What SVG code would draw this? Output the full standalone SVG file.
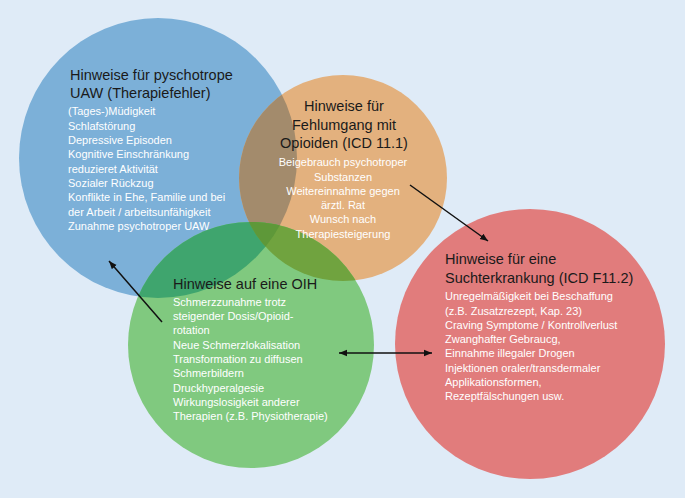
<svg xmlns="http://www.w3.org/2000/svg" width="685" height="498" viewBox="0 0 685 498">
<defs>
<style>
.t{font-family:"Liberation Sans",Arial,sans-serif;font-size:14.5px;fill:#1a1a1a}
.b{font-family:"Liberation Sans",Arial,sans-serif;font-size:11px;fill:#ffffff}
.c{text-anchor:middle}
.ln{stroke:#111;stroke-width:1.5;fill:none}
</style>
<marker id="ah" viewBox="0 0 10 10" refX="10" refY="5" markerWidth="8" markerHeight="8" markerUnits="userSpaceOnUse" orient="auto-start-reverse">
<path d="M0,1 L10,5 L0,9 Z" fill="#111"/>
</marker>
<clipPath id="cBlue"><ellipse cx="158" cy="158" rx="139" ry="140"/></clipPath>
<clipPath id="cOrange"><ellipse cx="343" cy="178" rx="104" ry="103"/></clipPath>
</defs>
<rect x="0" y="0" width="685" height="498" fill="#dfebf7"/>

<g id="node-uaw">
<ellipse cx="158" cy="158" rx="139" ry="140" fill="#7cb0d8"/>
</g>
<g id="node-fehlumgang">
<ellipse cx="343" cy="178" rx="104" ry="103" fill="#e3b17e"/>
<ellipse cx="343" cy="178" rx="104" ry="103" fill="#a38b6c" clip-path="url(#cBlue)"/>
</g>
<g id="node-oih">
<ellipse cx="251" cy="345" rx="123" ry="123" fill="#80c97f"/>
<ellipse cx="251" cy="345" rx="123" ry="123" fill="#3fa56e" clip-path="url(#cBlue)"/>
<ellipse cx="251" cy="345" rx="123" ry="123" fill="#70a33f" clip-path="url(#cOrange)"/>
<g clip-path="url(#cBlue)"><ellipse cx="251" cy="345" rx="123" ry="123" fill="#5e9839" clip-path="url(#cOrange)"/></g>
</g>
<g id="node-sucht">
<ellipse cx="530" cy="344" rx="135" ry="135" fill="#e17c7c"/>
</g>

<g id="text-uaw">
<text class="t" x="70" y="80">Hinweise für pyschotrope</text>
<text class="t" x="70" y="98">UAW (Therapiefehler)</text>
<text class="b" x="68" y="115">(Tages-)Müdigkeit</text>
<text class="b" x="68" y="129.5">Schlafstörung</text>
<text class="b" x="68" y="144">Depressive Episoden</text>
<text class="b" x="68" y="158">Kognitive Einschränkung</text>
<text class="b" x="68" y="172.5">reduzieret Aktivität</text>
<text class="b" x="68" y="187">Sozialer Rückzug</text>
<text class="b" x="68" y="201">Konflikte in Ehe, Familie und bei</text>
<text class="b" x="68" y="215.5">der Arbeit / arbeitsunfähigkeit</text>
<text class="b" x="68" y="230">Zunahme psychotroper UAW</text>
</g>
<g id="text-fehlumgang">
<text class="t c" x="344" y="111">Hinweise für</text>
<text class="t c" x="344" y="130">Fehlumgang mit</text>
<text class="t c" x="344" y="148">Opioiden (ICD 11.1)</text>
<text class="b c" x="343" y="166">Beigebrauch psychotroper</text>
<text class="b c" x="343" y="181">Substanzen</text>
<text class="b c" x="343" y="195">Weitereinnahme gegen</text>
<text class="b c" x="343" y="209">ärztl. Rat</text>
<text class="b c" x="343" y="223">Wunsch nach</text>
<text class="b c" x="343" y="238">Therapiesteigerung</text>
</g>
<g id="text-oih">
<text class="t" x="173" y="289">Hinweise auf eine OIH</text>
<text class="b" x="173" y="306">Schmerzzunahme trotz</text>
<text class="b" x="173" y="320">steigender Dosis/Opioid-</text>
<text class="b" x="173" y="334">rotation</text>
<text class="b" x="173" y="349">Neue Schmerzlokalisation</text>
<text class="b" x="173" y="363">Transformation zu diffusen</text>
<text class="b" x="173" y="377">Schmerbildern</text>
<text class="b" x="173" y="392">Druckhyperalgesie</text>
<text class="b" x="173" y="406">Wirkungslosigkeit anderer</text>
<text class="b" x="173" y="420">Therapien (z.B. Physiotherapie)</text>
</g>
<g id="text-sucht">
<text class="t" x="445" y="264">Hinweise für eine</text>
<text class="t" x="445" y="283">Suchterkrankung (ICD F11.2)</text>
<text class="b" x="445" y="300">Unregelmäßigkeit bei Beschaffung</text>
<text class="b" x="445" y="315">(z.B. Zusatzrezept, Kap. 23)</text>
<text class="b" x="445" y="329">Craving Symptome / Kontrollverlust</text>
<text class="b" x="445" y="343">Zwanghafter Gebraucg,</text>
<text class="b" x="445" y="357">Einnahme illegaler Drogen</text>
<text class="b" x="445" y="372">Injektionen oraler/transdermaler</text>
<text class="b" x="445" y="386">Applikationsformen,</text>
<text class="b" x="445" y="400">Rezeptfälschungen usw.</text>
</g>

<g id="connectors">
<line class="ln" x1="410" y1="185" x2="488" y2="241" marker-end="url(#ah)"/>
<line class="ln" x1="162" y1="322" x2="109" y2="261" marker-end="url(#ah)"/>
<line class="ln" x1="339" y1="353" x2="432" y2="353" marker-start="url(#ah)" marker-end="url(#ah)"/>
</g>
</svg>
